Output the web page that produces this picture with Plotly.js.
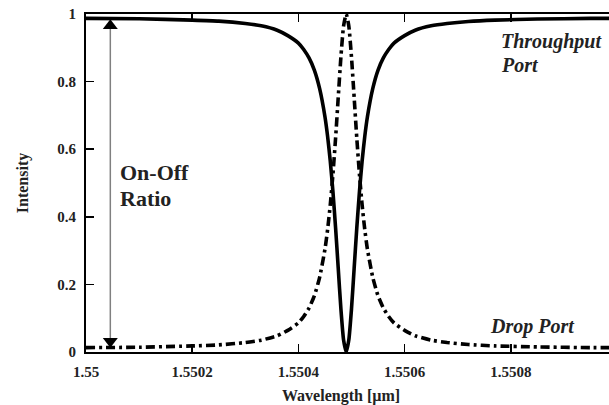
<!DOCTYPE html>
<html>
<head>
<meta charset="utf-8">
<script src="https://cdn.plot.ly/plotly-3.0.1.min.js"></script>
<style>
html,body{margin:0;padding:0;overflow:hidden;background:#fff;}
#chart{width:620px;height:405px;}
</style>
</head>
<body>
<div id="chart"></div>
<script>
// Wavelength samples [µm]
const wavelength = [1.55, 1.5501, 1.5502, 1.55025, 1.5503, 1.55033, 1.55036, 1.55038, 1.5504,
  1.55041, 1.55042, 1.55043, 1.55044, 1.55045, 1.550455, 1.55046, 1.550465, 1.55047, 1.550475,
  1.55048, 1.550485, 1.55049, 1.550495, 1.5505, 1.550505, 1.55051, 1.550515, 1.55052, 1.550525,
  1.55053, 1.55054, 1.55055, 1.55056, 1.55057, 1.55058, 1.5506, 1.55062, 1.55065,
  1.55068, 1.55072, 1.55077, 1.55085, 1.55095, 1.551];
// Throughput port intensity (solid)
const throughput = [0.987, 0.986, 0.982, 0.979, 0.972, 0.965, 0.952, 0.936, 0.914,
  0.895, 0.870, 0.834, 0.779, 0.696, 0.638, 0.565, 0.475, 0.368, 0.248,
  0.128, 0.036, 0.0, 0.036, 0.128, 0.248, 0.368, 0.475, 0.565, 0.638,
  0.696, 0.779, 0.834, 0.870, 0.895, 0.914, 0.936, 0.952, 0.965,
  0.972, 0.978, 0.982, 0.985, 0.987, 0.987];
// Drop port intensity (dash-dot)
const dropPort = [0.013, 0.014, 0.018, 0.021, 0.028, 0.035, 0.048, 0.064, 0.086,
  0.105, 0.130, 0.166, 0.221, 0.304, 0.362, 0.435, 0.525, 0.632, 0.753,
  0.872, 0.964, 1.0, 0.964, 0.872, 0.753, 0.632, 0.525, 0.435, 0.362,
  0.304, 0.221, 0.166, 0.130, 0.105, 0.086, 0.064, 0.048, 0.035,
  0.028, 0.022, 0.018, 0.015, 0.013, 0.013];

const xTickVals = [1.55, 1.5502, 1.5504, 1.5506, 1.5508];
const xTickText = ['1.55', '1.5502', '1.5504', '1.5506', '1.5508'];
const yTickVals = [0, 0.2, 0.4, 0.6, 0.8, 1];
const yTickText = ['0', '0.2', '0.4', '0.6', '0.8', '1'];

// On-Off ratio arrow
const arrowX = [1.5500458, 1.5500458];
const arrowY = [0.032, 0.965];

const serif = 'Liberation Serif';

const traces = [
  {x: wavelength, y: throughput, type: 'scatter', mode: 'lines', name: 'Throughput Port',
   line: {color: '#000', width: 3.6, shape: 'spline', smoothing: 0.5}},
  {x: wavelength, y: dropPort, type: 'scatter', mode: 'lines', name: 'Drop Port',
   line: {color: '#000', width: 3.6, dash: '9px,4px,3px,4px', shape: 'spline', smoothing: 0.5}},
  {x: arrowX, y: arrowY, type: 'scatter', mode: 'lines', line: {color: '#808080', width: 1.5},
   hoverinfo: 'skip'},
  {x: [arrowX[1]], y: [arrowY[1]], type: 'scatter', mode: 'markers',
   marker: {symbol: 'triangle-up', size: 13, color: '#000'}, hoverinfo: 'skip'},
  {x: [arrowX[0]], y: [arrowY[0]], type: 'scatter', mode: 'markers',
   marker: {symbol: 'triangle-down', size: 13, color: '#000'}, hoverinfo: 'skip'}
];

const axisCommon = {
  showgrid: false, zeroline: false, showline: true, linecolor: '#000', linewidth: 2,
  mirror: 'ticks', ticks: 'inside', ticklen: 8, tickwidth: 1.5, tickcolor: '#000',
  tickfont: {family: serif, size: 15, color: '#222', weight: 'bold'}
};

const layout = {
  width: 620, height: 405,
  margin: {l: 86, r: 3, t: 14, b: 53},
  showlegend: false,
  paper_bgcolor: '#fff', plot_bgcolor: '#fff',
  font: {family: serif, color: '#222'},
  xaxis: Object.assign({}, axisCommon, {
    range: [1.55, 1.551], tickmode: 'array', tickvals: xTickVals, ticktext: xTickText,
    ticklabelstandoff: 5
  }),
  yaxis: Object.assign({}, axisCommon, {
    range: [0, 1], tickmode: 'array', tickvals: yTickVals, ticktext: yTickText,
    ticklabelstandoff: 5,
    title: {text: 'Intensity', standoff: 25, font: {family: serif, size: 16, color: '#222', weight: 'bold'}}
  }),
  annotations: [
    {text: '<b>Wavelength [µm]</b>', xref: 'paper', yref: 'paper', x: 0.48, y: 0, xanchor: 'center', yanchor: 'top',
     yshift: -33, showarrow: false, font: {family: serif, size: 16, color: '#222'}},
    {text: '<b><i>Throughput</i></b>', xref: 'paper', yref: 'y', x: 0.777, y: 0.92, xanchor: 'left', yanchor: 'middle',
     showarrow: false, font: {family: serif, size: 20, color: '#222'}},
    {text: '<b><i>Port</i></b>', xref: 'paper', yref: 'y', x: 0.777, y: 0.85, xanchor: 'left', yanchor: 'middle',
     showarrow: false, font: {family: serif, size: 20, color: '#222'}},
    {text: '<b><i>Drop Port</i></b>', xref: 'paper', yref: 'y', x: 0.757, y: 0.074, xanchor: 'left', yanchor: 'middle',
     showarrow: false, font: {family: serif, size: 20, color: '#222'}},
    {text: '<b>On-Off</b>', xref: 'paper', yref: 'y', x: 0.06, y: 0.53, xanchor: 'left', yanchor: 'middle',
     showarrow: false, font: {family: serif, size: 22, color: '#222'}},
    {text: '<b>Ratio</b>', xref: 'paper', yref: 'y', x: 0.06, y: 0.455, xanchor: 'left', yanchor: 'middle',
     showarrow: false, font: {family: serif, size: 22, color: '#222'}}
  ]
};

Plotly.newPlot('chart', traces, layout, {displayModeBar: false, staticPlot: true});
</script>
</body>
</html>
